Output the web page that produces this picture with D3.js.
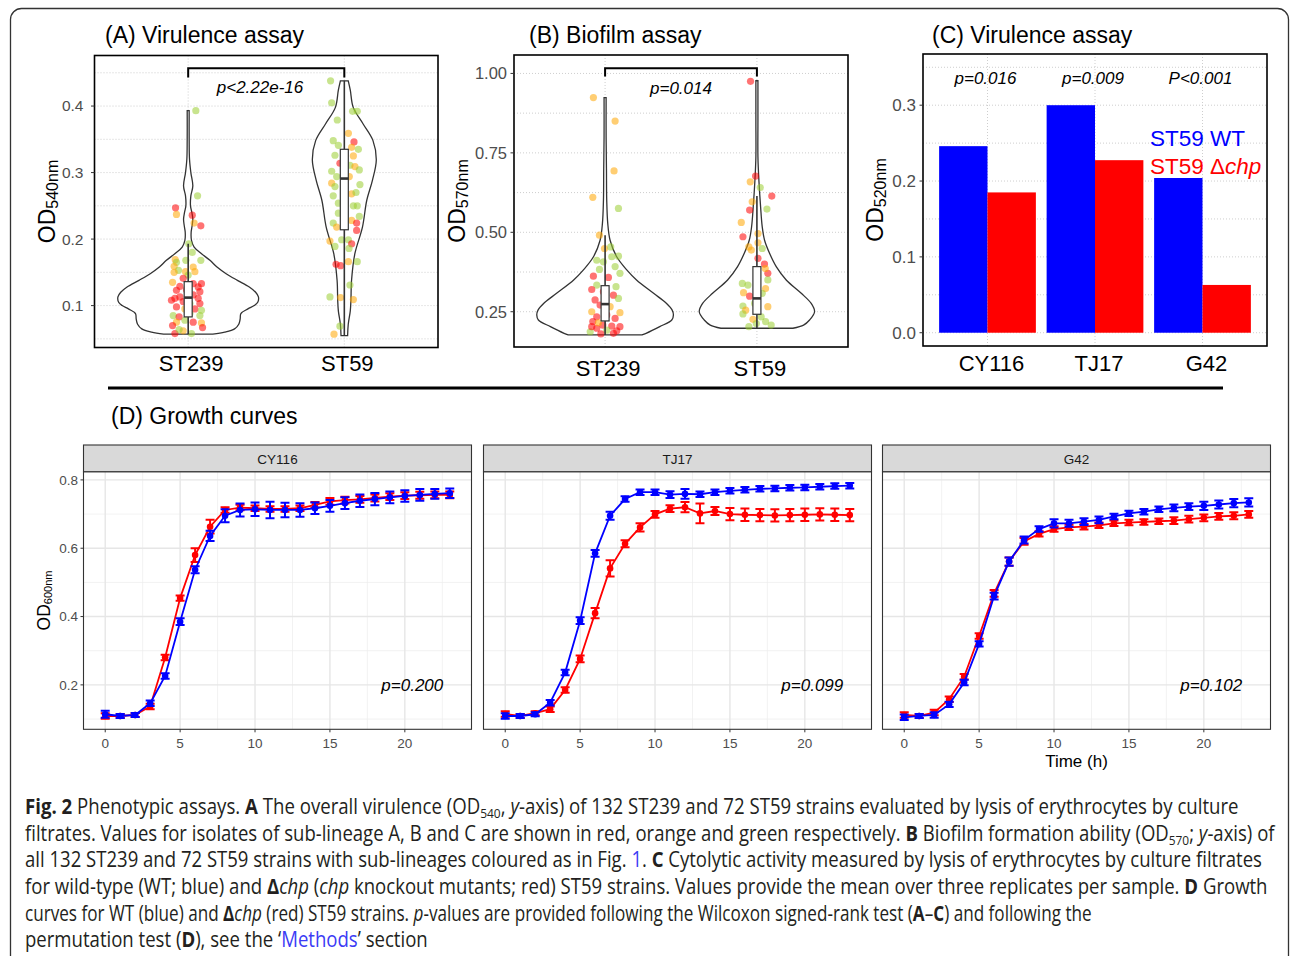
<!DOCTYPE html>
<html>
<head>
<meta charset="utf-8">
<script src="https://cdn.jsdelivr.net/npm/d3@7"></script>
<style>
  body { margin: 0; background: #fff; }
  svg { display: block; font-family: "Liberation Sans", Arial, sans-serif; }
</style>
</head>
<body>
<div id="chart"></div>
<script>
// ---------- data ----------
const groups = ["ST239", "ST59"];

// (A) virulence: [value, sub-lineage, horizontal jitter in category units]
const virST239 = [
  [0.393,"C",0.049],[0.265,"C",0.060],[0.247,"A",-0.081],[0.237,"B",-0.075],[0.236,"A",0.026],[0.224,"B",0.038],
  [0.220,"A",0.081],[0.193,"C",0.004],[0.180,"C",0.026],[0.169,"B",-0.083],[0.165,"C",-0.075],[0.168,"C",-0.015],
  [0.168,"C",0.081],[0.158,"B",0.032],[0.159,"B",-0.090],[0.153,"C",-0.062],[0.151,"B",-0.017],[0.151,"B",0.043],
  [0.150,"B",-0.090],[0.146,"C",0.0],[0.141,"A",-0.032],[0.135,"B",-0.100],[0.129,"A",-0.053],[0.133,"A",0.032],
  [0.133,"A",0.085],[0.128,"A",0.064],[0.123,"A",-0.075],[0.124,"A",-0.011],[0.121,"A",0.075],[0.111,"A",-0.085],
  [0.113,"A",-0.053],[0.116,"A",0.032],[0.111,"A",0.064],[0.108,"A",-0.107],[0.106,"A",-0.032],[0.103,"C",0.011],
  [0.103,"A",0.075],[0.098,"A",-0.075],[0.095,"B",-0.021],[0.095,"A",0.043],[0.093,"C",0.085],[0.085,"C",-0.096],
  [0.083,"A",-0.058],[0.088,"C",0.011],[0.085,"C",0.075],[0.075,"B",-0.075],[0.078,"C",-0.021],[0.075,"A",0.032],
  [0.074,"B",0.085],[0.070,"A",-0.100],[0.067,"A",0.092],[0.058,"A",-0.085],[0.062,"B",-0.032],[0.058,"C",0.021],
  [0.064,"C",-0.058]
];
const virST59 = [
  [0.438,"C",-0.088],[0.405,"C",-0.081],[0.392,"C",0.053],[0.392,"C",0.083],[0.379,"C",-0.045],[0.359,"B",0.026],
  [0.348,"C",-0.071],[0.346,"A",0.062],[0.341,"C",-0.038],[0.338,"B",0.047],[0.335,"C",0.090],[0.326,"C",-0.060],
  [0.325,"B",0.058],[0.314,"A",-0.028],[0.311,"C",0.036],[0.302,"C",-0.081],[0.309,"B",0.068],[0.304,"C",0.096],
  [0.294,"C",-0.049],[0.294,"B",0.032],[0.284,"B",-0.081],[0.279,"C",-0.060],[0.282,"C",0.100],[0.268,"B",0.047],
  [0.265,"C",-0.071],[0.270,"C",0.075],[0.254,"C",-0.038],[0.250,"C",0.058],[0.250,"C",0.083],[0.239,"C",-0.038],
  [0.234,"C",0.096],[0.224,"C",-0.071],[0.228,"B",0.047],[0.224,"A",0.079],[0.218,"B",-0.049],[0.213,"A",0.079],
  [0.199,"C",-0.017],[0.197,"B",-0.092],[0.199,"C",0.026],[0.193,"A",0.047],[0.189,"C",-0.060],[0.186,"C",0.030],
  [0.162,"A",-0.053],[0.160,"A",-0.024],[0.166,"B",0.026],[0.166,"C",0.083],[0.131,"C",0.036],[0.113,"C",-0.092],
  [0.112,"B",-0.024],[0.109,"B",0.058],[0.069,"C",-0.028],[0.057,"B",-0.066]
];
// violin outlines: [value, relative density]
const virViolinST239 = [
  [0.057,0.35],[0.060,0.52],[0.065,0.66],[0.072,0.72],[0.080,0.74],[0.088,0.75],[0.095,0.85],[0.100,0.94],
  [0.105,0.99],[0.113,1.0],[0.120,0.96],[0.128,0.87],[0.138,0.70],[0.148,0.54],[0.158,0.41],[0.168,0.31],
  [0.178,0.19],[0.188,0.085],[0.198,0.047],[0.210,0.042],[0.220,0.056],[0.230,0.066],[0.240,0.052],
  [0.250,0.033],[0.265,0.038],[0.280,0.066],[0.300,0.038],[0.320,0.019],[0.350,0.014],[0.393,0.014]
];
const virViolinST59 = [
  [0.055,0.047],[0.072,0.056],[0.092,0.085],[0.108,0.094],[0.138,0.103],[0.178,0.150],[0.218,0.258],
  [0.258,0.319],[0.288,0.399],[0.319,0.455],[0.348,0.408],[0.373,0.268],[0.398,0.127],[0.424,0.085],[0.438,0.056]
];
// box: [lower whisker, q1, median, q3, upper whisker]
const virBoxST239 = [0.057, 0.083, 0.112, 0.136, 0.193];
const virBoxST59 = [0.055, 0.214, 0.291, 0.335, 0.438];

// (B) biofilm
const bioST239 = [
  [0.924,"B",-0.077],[0.850,"B",0.066],[0.693,"B",0.059],[0.610,"B",-0.081],[0.575,"C",0.088],[0.491,"B",-0.037],
  [0.449,"B",-0.004],[0.454,"C",0.037],[0.423,"C",0.044],[0.425,"C",0.088],[0.412,"C",-0.055],[0.407,"C",-0.011],
  [0.383,"C",-0.037],[0.392,"C",0.066],[0.371,"C",0.098],[0.362,"A",-0.077],[0.358,"A",0.022],[0.334,"C",-0.055],
  [0.329,"C",0.072],[0.320,"A",-0.088],[0.313,"A",-0.011],[0.302,"A",0.055],[0.287,"A",-0.066],[0.292,"C",0.088],
  [0.271,"A",-0.033],[0.266,"B",0.033],[0.247,"B",0.098],[0.250,"B",-0.088],[0.234,"A",-0.055],[0.240,"A",0.011],
  [0.229,"A",0.066],[0.219,"A",-0.081],[0.208,"A",-0.015],[0.205,"A",0.044],[0.203,"A",0.098],[0.198,"A",-0.055],
  [0.192,"C",0.011],[0.190,"A",0.077],[0.187,"C",-0.098],[0.180,"A",-0.028],[0.203,"A",-0.088],[0.182,"A",0.055],
  [0.215,"B",-0.044]
];
const bioST59 = [
  [0.975,"A",-0.042],[0.677,"A",-0.009],[0.659,"B",-0.044],[0.641,"C",0.022],[0.596,"B",-0.031],[0.614,"A",0.098],
  [0.570,"A",-0.048],[0.531,"B",-0.103],[0.573,"C",0.066],[0.486,"A",-0.092],[0.496,"B",0.007],[0.454,"B",-0.053],
  [0.444,"B",-0.037],[0.467,"B",0.007],[0.449,"C",0.035],[0.418,"A",0.007],[0.400,"A",0.050],[0.371,"A",0.072],
  [0.386,"B",0.055],[0.339,"C",-0.096],[0.334,"C",-0.059],[0.350,"C",0.072],[0.310,"B",-0.088],[0.299,"A",-0.048],
  [0.323,"B",0.057],[0.308,"C",0.035],[0.268,"C",-0.092],[0.276,"C",-0.015],[0.266,"B",0.072],[0.255,"B",-0.074],
  [0.226,"B",-0.026],[0.234,"C",0.028],[0.243,"C",-0.092],[0.219,"C",0.057],[0.208,"C",0.094],[0.203,"C",-0.053],
  [0.213,"C",-0.004]
];
const bioViolinST239 = [
  [0.177,0.54],[0.182,0.60],[0.203,0.80],[0.224,0.976],[0.240,1.0],[0.256,0.98],[0.276,0.90],[0.308,0.71],
  [0.350,0.46],[0.381,0.32],[0.423,0.17],[0.475,0.073],[0.528,0.039],[0.600,0.024],[0.700,0.020],[0.800,0.015],[0.924,0.015]
];
const bioViolinST59 = [
  [0.198,0.527],[0.208,0.683],[0.224,0.771],[0.250,0.844],[0.276,0.795],[0.308,0.649],[0.350,0.429],[0.392,0.283],
  [0.434,0.185],[0.475,0.112],[0.517,0.078],[0.580,0.054],[0.664,0.029],[0.737,0.015],[0.850,0.015],[0.977,0.015]
];
const bioBoxST239 = [0.177, 0.221, 0.274, 0.332, 0.491];
const bioBoxST59 = [0.198, 0.242, 0.292, 0.392, 0.614];

// (C) virulence of knockouts
const strainsC = ["CY116", "TJ17", "G42"];
const wtC = [0.246, 0.300, 0.204];
const chpC = [0.185, 0.2275, 0.063];
const pLabelsC = ["p=0.016", "p=0.009", "P<0.001"];

// (D) growth curves
const hours = [0,1,2,3,4,5,6,7,8,9,10,11,12,13,14,15,16,17,18,19,20,21,22,23];
const cy116WT = [0.114,0.109,0.112,0.146,0.226,0.385,0.537,0.636,0.695,0.712,0.714,0.712,0.712,0.712,0.717,0.724,0.732,0.739,0.744,0.749,0.753,0.756,0.759,0.761];
const cy116WTErr = [0.010,0.006,0.006,0.008,0.008,0.010,0.010,0.015,0.019,0.019,0.020,0.024,0.021,0.020,0.017,0.017,0.017,0.018,0.018,0.017,0.017,0.017,0.014,0.014];
const cy116Chp = [0.109,0.109,0.112,0.137,0.280,0.454,0.580,0.663,0.712,0.719,0.717,0.715,0.715,0.717,0.727,0.737,0.741,0.743,0.747,0.751,0.754,0.755,0.756,0.756];
const cy116ChpErr = [0.008,0.006,0.006,0.008,0.008,0.008,0.020,0.020,0.008,0.008,0.008,0.008,0.008,0.008,0.008,0.010,0.010,0.010,0.010,0.010,0.010,0.010,0.010,0.010];
const tj17WT = [0.109,0.109,0.114,0.148,0.236,0.388,0.585,0.695,0.744,0.764,0.764,0.757,0.759,0.758,0.764,0.768,0.771,0.774,0.775,0.777,0.778,0.780,0.782,0.783];
const tj17WTErr = [0.008,0.006,0.006,0.008,0.008,0.010,0.010,0.012,0.008,0.008,0.008,0.010,0.014,0.008,0.008,0.008,0.008,0.008,0.008,0.008,0.008,0.008,0.008,0.008];
const tj17Chp = [0.115,0.109,0.117,0.129,0.185,0.276,0.410,0.541,0.613,0.661,0.699,0.716,0.720,0.702,0.709,0.700,0.698,0.697,0.696,0.697,0.698,0.699,0.698,0.697];
const tj17ChpErr = [0.008,0.006,0.006,0.008,0.008,0.010,0.015,0.024,0.010,0.012,0.010,0.010,0.015,0.029,0.012,0.018,0.018,0.018,0.018,0.018,0.018,0.018,0.018,0.018];
const g42WT = [0.105,0.109,0.112,0.143,0.207,0.320,0.460,0.561,0.624,0.656,0.673,0.673,0.678,0.683,0.693,0.702,0.707,0.714,0.718,0.722,0.724,0.728,0.732,0.734];
const g42WTErr = [0.008,0.006,0.008,0.008,0.008,0.008,0.010,0.012,0.010,0.008,0.012,0.010,0.010,0.010,0.008,0.008,0.008,0.008,0.010,0.010,0.012,0.012,0.012,0.012];
const g42Chp = [0.112,0.109,0.119,0.158,0.224,0.343,0.468,0.561,0.620,0.642,0.656,0.661,0.663,0.667,0.673,0.675,0.677,0.679,0.681,0.685,0.689,0.693,0.695,0.699];
const g42ChpErr = [0.008,0.006,0.008,0.008,0.008,0.008,0.010,0.012,0.010,0.008,0.008,0.008,0.008,0.008,0.008,0.008,0.008,0.008,0.010,0.010,0.010,0.010,0.010,0.010];
const growthP = ["p=0.200", "p=0.099", "p=0.102"];

// caption text, segments: [text, style]
const captionLines = [
  [["Fig. 2","b"],[" Phenotypic assays. "],["A","b"],[" The overall virulence (OD"],["540","sub"],[", "],["y","i"],["-axis) of 132 ST239 and 72 ST59 strains evaluated by lysis of erythrocytes by culture"]],
  [["filtrates. Values for isolates of sub-lineage A, B and C are shown in red, orange and green respectively. "],["B","b"],[" Biofilm formation ability (OD"],["570","sub"],["; "],["y","i"],["-axis) of"]],
  [["all 132 ST239 and 72 ST59 strains with sub-lineages coloured as in Fig. "],["1","link"],[". "],["C","b"],[" Cytolytic activity measured by lysis of erythrocytes by culture filtrates"]],
  [["for wild-type (WT; blue) and "],["Δ","b"],["chp","i"],[" ("],["chp","i"],[" knockout mutants; red) ST59 strains. Values provide the mean over three replicates per sample. "],["D","b"],[" Growth"]],
  [["curves for WT (blue) and "],["Δ","b"],["chp","i"],[" (red) ST59 strains. "],["p","i"],["-values are provided following the Wilcoxon signed-rank test ("],["A","b"],["–"],["C","b"],[") and following the"]],
  [["permutation test ("],["D","b"],["), see the ‘"],["Methods","link"],["’ section"]]
];

// ---------- drawing ----------
const W = 1290, H = 956;
const svg = d3.select("#chart").append("svg").attr("width", W).attr("height", H);

const lineageColor = { A: "#ff0000", B: "#ffa500", C: "#9acd32" };
const gridCol = "#c8c8c8";

// outer frame
svg.append("rect")
  .attr("x", 10.5).attr("y", 8.5).attr("width", 1278).attr("height", 1100)
  .attr("rx", 11).attr("fill", "none").attr("stroke", "#333").attr("stroke-width", 1.3);

function yTitle(g, x, yc, sub, big, small) {
  const t = g.append("text")
    .attr("transform", `translate(${x},${yc}) rotate(-90)`)
    .attr("text-anchor", "middle")
    .attr("fill", "#000")
    .style("font-size", big + "px");
  t.append("tspan").text("OD");
  t.append("tspan").attr("dy", big * 0.12).style("font-size", small + "px").text(sub);
}

function panelTitle(x, y, txt) {
  svg.append("text").attr("x", x).attr("y", y)
    .style("font-size", "23px").attr("fill", "#000").text(txt);
}

// violin + jitter + box panel (A and B)
function violinPanel(o) {
  const g = svg.append("g");
  const x = d3.scalePoint().domain(groups).range([o.left, o.right]).padding(0.6);
  const step = x.step();
  const y = d3.scaleLinear().domain(o.yDomain).range([o.bottom, o.top]);

  // dotted grid
  o.minor.concat(o.ticks).forEach(v => {
    g.append("line").attr("x1", o.left).attr("x2", o.right).attr("y1", y(v)).attr("y2", y(v))
      .attr("stroke", gridCol).attr("stroke-width", 0.9).attr("stroke-dasharray", "1,2");
  });
  groups.forEach(k => {
    g.append("line").attr("x1", x(k)).attr("x2", x(k)).attr("y1", o.top).attr("y2", o.bottom)
      .attr("stroke", gridCol).attr("stroke-width", 0.9).attr("stroke-dasharray", "1,2");
  });

  const half = 0.45 * step;
  groups.forEach((k, i) => {
    const cx = x(k);
    const area = d3.area().curve(d3.curveCatmullRom)
      .y(d => y(d[0]))
      .x0(d => cx - d[1] * half)
      .x1(d => cx + d[1] * half);
    g.append("path").datum(o.violins[i]).attr("d", area)
      .attr("fill", "#fff").attr("stroke", "#333").attr("stroke-width", 1.3);

    g.selectAll(null).data(o.points[i]).enter().append("circle")
      .attr("cx", d => cx + d[2] * step)
      .attr("cy", d => y(d[0]))
      .attr("r", 3.6)
      .attr("fill", d => lineageColor[d[1]])
      .attr("fill-opacity", 0.55);

    const b = o.boxes[i];
    g.append("line").attr("x1", cx).attr("x2", cx).attr("y1", y(b[4])).attr("y2", y(b[3]))
      .attr("stroke", "#333").attr("stroke-width", 1.6);
    g.append("line").attr("x1", cx).attr("x2", cx).attr("y1", y(b[1])).attr("y2", y(b[0]))
      .attr("stroke", "#333").attr("stroke-width", 1.6);
    g.append("rect").attr("x", cx - 4).attr("width", 8)
      .attr("y", y(b[3])).attr("height", y(b[1]) - y(b[3]))
      .attr("fill", "#fff").attr("stroke", "#333").attr("stroke-width", 1.2);
    g.append("line").attr("x1", cx - 4).attr("x2", cx + 4).attr("y1", y(b[2])).attr("y2", y(b[2]))
      .attr("stroke", "#333").attr("stroke-width", 2.6);
  });

  // significance bracket
  const by = y(o.bracket[0]), bt = y(o.bracket[0] - o.bracket[1]);
  g.append("path")
    .attr("d", `M${x(groups[0])},${bt}V${by}H${x(groups[1])}V${bt}`)
    .attr("fill", "none").attr("stroke", "#000").attr("stroke-width", 2);
  g.append("text").attr("x", o.left + (o.pX - 0.4) * step).attr("y", o.pY)
    .attr("text-anchor", "middle").style("font-size", "17px").style("font-style", "italic")
    .text(o.pLabel);

  // border
  g.append("rect").attr("x", o.left).attr("y", o.top)
    .attr("width", o.right - o.left).attr("height", o.bottom - o.top)
    .attr("fill", "none").attr("stroke", "#000").attr("stroke-width", 1.6);

  // y axis
  o.ticks.forEach((v, i) => {
    g.append("line").attr("x1", o.left - 3.5).attr("x2", o.left).attr("y1", y(v)).attr("y2", y(v))
      .attr("stroke", "#333").attr("stroke-width", 1);
    g.append("text").attr("x", o.left - o.tickGap).attr("y", y(v)).attr("dy", "0.35em")
      .attr("text-anchor", "end").attr("fill", "#4d4d4d").style("font-size", o.tickSize + "px")
      .text(o.tickLabels[i]);
  });
  groups.forEach(k => {
    g.append("text").attr("x", x(k) + 3).attr("y", o.xLabY).attr("text-anchor", "middle")
      .style("font-size", "22px").attr("fill", "#000").text(k);
  });
  yTitle(g, o.titleX, (o.top + o.bottom) / 2, o.sub, 23, 16);
}

panelTitle(105, 43, "(A) Virulence assay");
violinPanel({
  left: 94.5, right: 438, top: 55.5, bottom: 347.5,
  yDomain: [0.037, 0.476],
  ticks: [0.1, 0.2, 0.3, 0.4], tickLabels: ["0.1", "0.2", "0.3", "0.4"],
  minor: [0.05, 0.15, 0.25, 0.35, 0.45],
  tickGap: 11, tickSize: 15.5,
  violins: [virViolinST239, virViolinST59],
  points: [virST239, virST59],
  boxes: [virBoxST239, virBoxST59],
  bracket: [0.457, 0.014], pLabel: "p<2.22e-16", pX: 1.46, pY: 93,
  xLabY: 371, titleX: 55, sub: "540nm"
});

panelTitle(529, 43, "(B) Biofilm assay");
violinPanel({
  left: 514, right: 848, top: 55, bottom: 347,
  yDomain: [0.139, 1.058],
  ticks: [0.25, 0.5, 0.75, 1.0], tickLabels: ["0.25", "0.50", "0.75", "1.00"],
  minor: [0.375, 0.625, 0.875],
  tickGap: 7, tickSize: 16.5,
  violins: [bioViolinST239, bioViolinST59],
  points: [bioST239, bioST59],
  boxes: [bioBoxST239, bioBoxST59],
  bracket: [1.016, 0.026], pLabel: "p=0.014", pX: 1.5, pY: 93.5,
  xLabY: 376, titleX: 465, sub: "570nm"
});

// (C) bar chart
panelTitle(932, 43, "(C) Virulence assay");
(function () {
  const L = 923, R = 1267, T = 54, B = 346;
  const g = svg.append("g");
  const x = d3.scalePoint().domain(strainsC).range([L, R]).padding(0.6);
  const step = x.step();
  const y = d3.scaleLinear().domain([-0.0175, 0.3675]).range([B, T]);
  const ticks = [0, 0.1, 0.2, 0.3], minor = [0.05, 0.15, 0.25, 0.35];
  minor.concat(ticks).forEach(v => {
    g.append("line").attr("x1", L).attr("x2", R).attr("y1", y(v)).attr("y2", y(v))
      .attr("stroke", gridCol).attr("stroke-width", 0.9).attr("stroke-dasharray", "1,2");
  });
  strainsC.forEach(k => {
    g.append("line").attr("x1", x(k)).attr("x2", x(k)).attr("y1", T).attr("y2", B)
      .attr("stroke", gridCol).attr("stroke-width", 0.9).attr("stroke-dasharray", "1,2");
  });
  const bw = 0.45 * step;
  g.selectAll(".wt").data(strainsC).enter().append("rect")
    .attr("x", d => x(d) - bw).attr("width", bw)
    .attr("y", (d, i) => y(wtC[i])).attr("height", (d, i) => y(0) - y(wtC[i]))
    .attr("fill", "#0000ff");
  g.selectAll(".chp").data(strainsC).enter().append("rect")
    .attr("x", d => x(d)).attr("width", bw)
    .attr("y", (d, i) => y(chpC[i])).attr("height", (d, i) => y(0) - y(chpC[i]))
    .attr("fill", "#ff0000");
  strainsC.forEach((k, i) => {
    g.append("text").attr("x", x(k) - 2).attr("y", y(0.328)).attr("text-anchor", "middle")
      .style("font-size", "17px").style("font-style", "italic").text(pLabelsC[i]);
  });
  g.append("text").attr("x", 1150).attr("y", 146).attr("fill", "#0000ff")
    .style("font-size", "22.5px").text("ST59 WT");
  const t2 = g.append("text").attr("x", 1150).attr("y", 174).attr("fill", "#ff0000")
    .style("font-size", "22.5px");
  t2.append("tspan").text("ST59 Δ");
  t2.append("tspan").style("font-style", "italic").text("chp");

  g.append("rect").attr("x", L).attr("y", T).attr("width", R - L).attr("height", B - T)
    .attr("fill", "none").attr("stroke", "#000").attr("stroke-width", 1.6);
  ticks.forEach(v => {
    g.append("line").attr("x1", L - 3.5).attr("x2", L).attr("y1", y(v)).attr("y2", y(v))
      .attr("stroke", "#333").attr("stroke-width", 1);
    g.append("text").attr("x", L - 7).attr("y", y(v)).attr("dy", "0.35em")
      .attr("text-anchor", "end").attr("fill", "#4d4d4d").style("font-size", "17px")
      .text(d3.format(".1f")(v));
  });
  strainsC.forEach(k => {
    g.append("text").attr("x", x(k) + 4).attr("y", 371).attr("text-anchor", "middle")
      .style("font-size", "22px").attr("fill", "#000").text(k);
  });
  yTitle(g, 883, (T + B) / 2, "520nm", 23, 16);
})();

// divider
svg.append("line").attr("x1", 108).attr("x2", 1223).attr("y1", 388).attr("y2", 388)
  .attr("stroke", "#000").attr("stroke-width", 3);

// (D) growth curves
panelTitle(111, 424, "(D) Growth curves");
const facets = [
  { name: "CY116", wt: cy116WT, wtErr: cy116WTErr, chp: cy116Chp, chpErr: cy116ChpErr },
  { name: "TJ17", wt: tj17WT, wtErr: tj17WTErr, chp: tj17Chp, chpErr: tj17ChpErr },
  { name: "G42", wt: g42WT, wtErr: g42WTErr, chp: g42Chp, chpErr: g42ChpErr }
];
const facetLeft = [83.5, 483.5, 882.5], facetW = 388;
const stripTop = 445, pTop = 471.7, pBottom = 729.3;

facets.forEach((f, fi) => {
  const L = facetLeft[fi], R = L + facetW;
  const g = svg.append("g");
  const x = d3.scaleLinear().domain([-1.45, 24.45]).range([L, R]);
  const y = d3.scaleLinear().domain([0.070, 0.824]).range([pBottom, pTop]);

  g.append("rect").attr("x", L).attr("y", pTop).attr("width", facetW).attr("height", pBottom - pTop)
    .attr("fill", "#fff");
  [0.1, 0.3, 0.5, 0.7].forEach(v => g.append("line").attr("x1", L).attr("x2", R)
    .attr("y1", y(v)).attr("y2", y(v)).attr("stroke", "#ececec").attr("stroke-width", 0.7));
  [2.5, 7.5, 12.5, 17.5, 22.5].forEach(v => g.append("line").attr("x1", x(v)).attr("x2", x(v))
    .attr("y1", pTop).attr("y2", pBottom).attr("stroke", "#ececec").attr("stroke-width", 0.7));
  [0.2, 0.4, 0.6, 0.8].forEach(v => g.append("line").attr("x1", L).attr("x2", R)
    .attr("y1", y(v)).attr("y2", y(v)).attr("stroke", "#e6e6e6").attr("stroke-width", 1.4));
  [0, 5, 10, 15, 20].forEach(v => g.append("line").attr("x1", x(v)).attr("x2", x(v))
    .attr("y1", pTop).attr("y2", pBottom).attr("stroke", "#e6e6e6").attr("stroke-width", 1.4));

  const series = [
    { vals: f.chp, err: f.chpErr, col: "#ff0000" },
    { vals: f.wt, err: f.wtErr, col: "#0000ff" }
  ];
  series.forEach(s => {
    const line = d3.line().x((d, i) => x(hours[i])).y(d => y(d));
    g.append("path").datum(s.vals).attr("d", line)
      .attr("fill", "none").attr("stroke", s.col).attr("stroke-width", 1.8);
    s.vals.forEach((v, i) => {
      const h = hours[i], e = s.err[i];
      g.append("path")
        .attr("d", `M${x(h - 0.3)},${y(v + e)}H${x(h + 0.3)}M${x(h)},${y(v + e)}V${y(v - e)}M${x(h - 0.3)},${y(v - e)}H${x(h + 0.3)}`)
        .attr("stroke", s.col).attr("stroke-width", 2).attr("fill", "none");
    });
    g.selectAll(null).data(s.vals).enter().append("circle")
      .attr("cx", (d, i) => x(hours[i])).attr("cy", d => y(d)).attr("r", 3.3)
      .attr("fill", s.col);
  });

  g.append("text").attr("x", x(20.5)).attr("y", y(0.2) + 6).attr("text-anchor", "middle")
    .style("font-size", "17px").style("font-style", "italic").attr("fill", "#000").text(growthP[fi]);

  // panel border + strip
  g.append("rect").attr("x", L).attr("y", pTop).attr("width", facetW).attr("height", pBottom - pTop)
    .attr("fill", "none").attr("stroke", "#333").attr("stroke-width", 1.1);
  g.append("rect").attr("x", L).attr("y", stripTop).attr("width", facetW).attr("height", pTop - stripTop)
    .attr("fill", "#d9d9d9").attr("stroke", "#333").attr("stroke-width", 1.1);
  g.append("text").attr("x", L + facetW / 2).attr("y", stripTop + 18.5).attr("text-anchor", "middle")
    .style("font-size", "13.5px").attr("fill", "#1a1a1a").text(f.name);

  // x axis
  [0, 5, 10, 15, 20].forEach(v => {
    g.append("line").attr("x1", x(v)).attr("x2", x(v)).attr("y1", pBottom).attr("y2", pBottom + 3)
      .attr("stroke", "#333").attr("stroke-width", 1);
    g.append("text").attr("x", x(v)).attr("y", 748).attr("text-anchor", "middle")
      .attr("fill", "#4d4d4d").style("font-size", "13.5px").text(v);
  });
  if (fi === 0) {
    [0.2, 0.4, 0.6, 0.8].forEach(v => {
      g.append("line").attr("x1", L - 3).attr("x2", L).attr("y1", y(v)).attr("y2", y(v))
        .attr("stroke", "#333").attr("stroke-width", 1);
      g.append("text").attr("x", L - 5.5).attr("y", y(v)).attr("dy", "0.35em").attr("text-anchor", "end")
        .attr("fill", "#4d4d4d").style("font-size", "13.5px").text(d3.format(".1f")(v));
    });
    yTitle(g, 50, (pTop + pBottom) / 2, "600nm", 17.5, 11);
  }
  if (fi === 2) {
    g.append("text").attr("x", L + facetW / 2).attr("y", 767).attr("text-anchor", "middle")
      .style("font-size", "17px").attr("fill", "#000").text("Time (h)");
  }
});

// caption
const captionWidths = [1214, 1250, 1238, 1243, 1067, 403];
captionLines.forEach((segs, li) => {
  const base = 814 + li * 26.65;
  const t = svg.append("text")
    .attr("transform", `translate(25,${base})`)
    .style("font-family", "'Open Sans', sans-serif")
    .style("font-size", "21px")
    .attr("fill", "#231f20");
  let shifted = false;
  segs.forEach(([s, st]) => {
    const ts = t.append("tspan").text(s);
    if (shifted) { ts.attr("dy", -4); shifted = false; }
    if (st === "b") ts.style("font-weight", "bold");
    if (st === "i") ts.style("font-style", "italic");
    if (st === "link") ts.attr("fill", "#3b3bf5");
    if (st === "sub") { ts.attr("dy", 4).style("font-size", "13.5px"); shifted = true; }
  });
  const w = t.node().getComputedTextLength();
  t.attr("transform", `translate(25,${base}) scale(${captionWidths[li] / w},1)`);
});
</script>
</body>
</html>
